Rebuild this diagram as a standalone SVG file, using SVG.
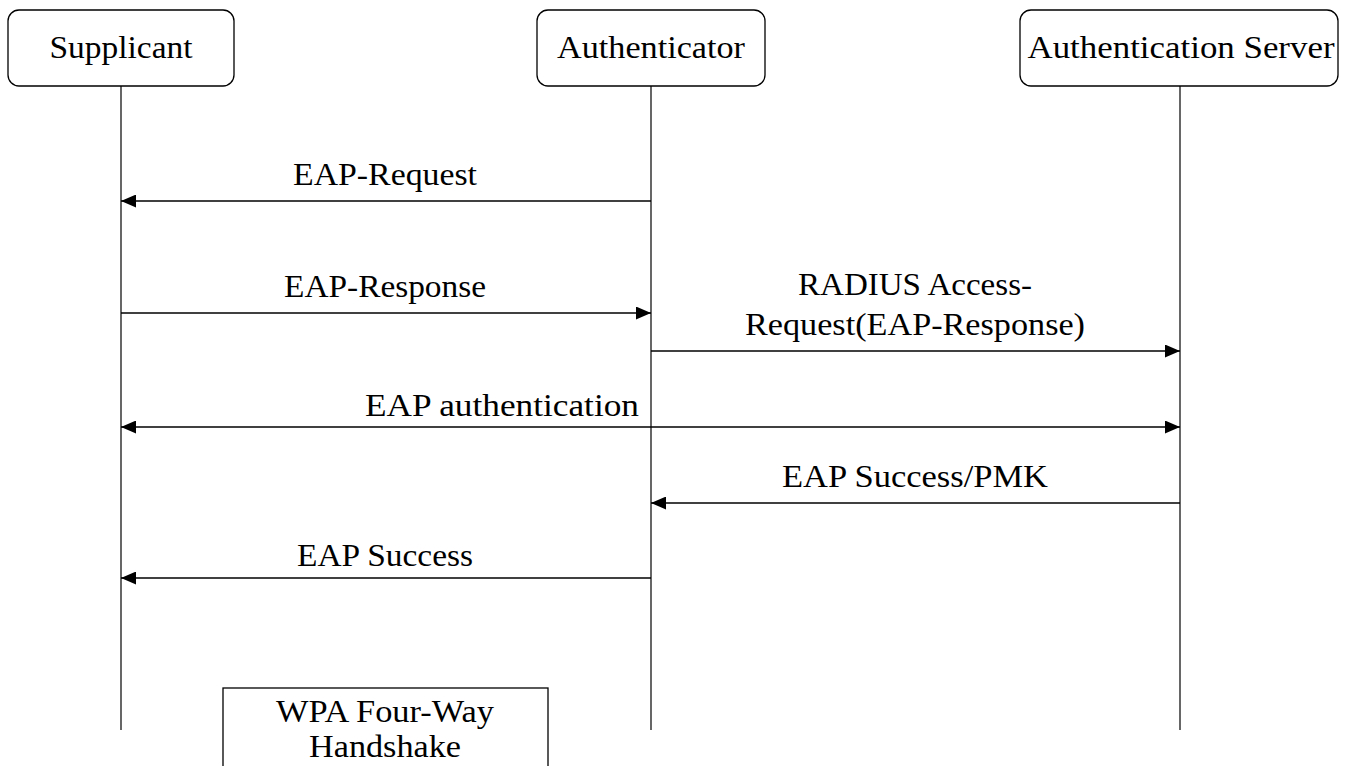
<svg xmlns="http://www.w3.org/2000/svg" width="1347" height="766" viewBox="0 0 1347 766">
<style>
text{font-family:"Liberation Serif","DejaVu Serif",serif;font-size:32px;fill:#000;text-anchor:middle}
.box{fill:#fff;stroke:#000;stroke-width:1.3}
.life{stroke:#000;stroke-width:1.2}
.msg{stroke:#000;stroke-width:1.3;fill:none}
</style>
<defs>
<marker id="ah" viewBox="0 0 15 13" refX="15" refY="6.5" markerWidth="15" markerHeight="13" markerUnits="userSpaceOnUse" orient="auto-start-reverse">
<path d="M0,0 L15,6.5 L0,13 Z" fill="#000"/>
</marker>
</defs>
<rect width="1347" height="766" fill="#fff"/>
<g id="lifelines">
<line class="life" x1="121" y1="86" x2="121" y2="730"/>
<line class="life" x1="651" y1="86" x2="651" y2="730"/>
<line class="life" x1="1180" y1="86" x2="1180" y2="730"/>
</g>
<g id="supplicant">
<rect class="box" x="8" y="10" width="226" height="76" rx="11"/>
<text x="121" y="58" textLength="143" lengthAdjust="spacingAndGlyphs">Supplicant</text>
</g>
<g id="authenticator">
<rect class="box" x="537" y="10" width="228" height="76" rx="11"/>
<text x="651" y="58" textLength="188" lengthAdjust="spacingAndGlyphs">Authenticator</text>
</g>
<g id="server">
<rect class="box" x="1020" y="10" width="318" height="76" rx="11"/>
<text x="1181" y="58" textLength="307" lengthAdjust="spacingAndGlyphs">Authentication Server</text>
</g>
<g id="connectors">
<line class="msg" x1="651" y1="201" x2="121" y2="201" marker-end="url(#ah)"/>
<line class="msg" x1="121" y1="313" x2="651" y2="313" marker-end="url(#ah)"/>
<line class="msg" x1="651" y1="351" x2="1180" y2="351" marker-end="url(#ah)"/>
<line class="msg" x1="121" y1="427" x2="1180" y2="427" marker-start="url(#ah)" marker-end="url(#ah)"/>
<line class="msg" x1="1180" y1="503" x2="651" y2="503" marker-end="url(#ah)"/>
<line class="msg" x1="651" y1="578" x2="121" y2="578" marker-end="url(#ah)"/>
</g>
<g id="labels">
<text x="385" y="185" textLength="184" lengthAdjust="spacingAndGlyphs">EAP-Request</text>
<text x="385" y="297" textLength="202" lengthAdjust="spacingAndGlyphs">EAP-Response</text>
<text x="915" y="295" textLength="234" lengthAdjust="spacingAndGlyphs">RADIUS Access-</text>
<text x="915" y="335" textLength="340" lengthAdjust="spacingAndGlyphs">Request(EAP-Response)</text>
<text x="502" y="416" textLength="274" lengthAdjust="spacingAndGlyphs">EAP authentication</text>
<text x="915" y="487" textLength="266" lengthAdjust="spacingAndGlyphs">EAP Success/PMK</text>
<text x="385" y="566" textLength="176" lengthAdjust="spacingAndGlyphs">EAP Success</text>
</g>
<g id="wpa">
<rect class="box" x="223" y="688" width="325" height="90"/>
<text x="385" y="722" textLength="218" lengthAdjust="spacingAndGlyphs">WPA Four-Way</text>
<text x="385" y="757" textLength="152" lengthAdjust="spacingAndGlyphs">Handshake</text>
</g>
</svg>
